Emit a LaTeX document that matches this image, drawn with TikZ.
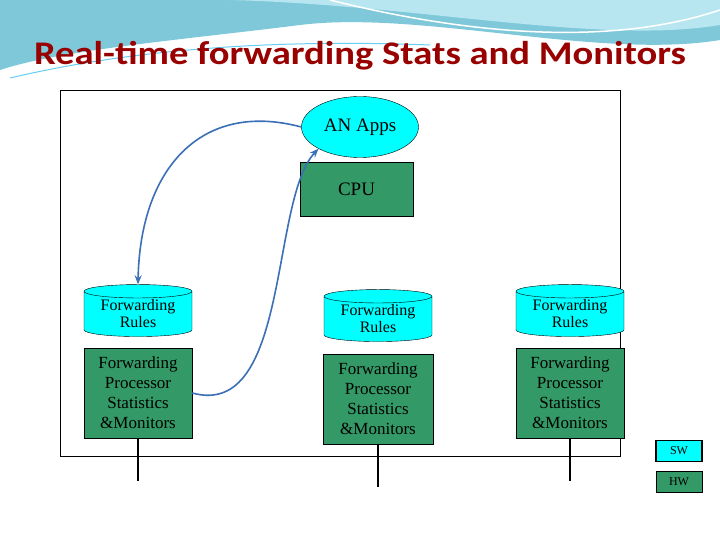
\documentclass[tikz,border=0pt]{standalone}
\usepackage{fontspec}
\setmainfont{Liberation Serif}
\newfontfamily\titlefont{Carlito}
\usetikzlibrary{shapes.geometric,arrows.meta}
\definecolor{seag}{HTML}{339966}
\definecolor{aqua}{HTML}{00FFFF}
\definecolor{ttl}{HTML}{990000}
\definecolor{arr}{HTML}{3B6FB6}
\definecolor{ban1}{HTML}{7EC8DA}
\definecolor{ban2}{HTML}{B8E6F0}
\tikzset{
 gbox/.style={draw=black,fill=seag,inner sep=0pt},
 cyl/.style={cylinder,shape border rotate=90,draw=black,fill=aqua,aspect=0.18,minimum width=108pt,minimum height=52pt,inner sep=0pt,font=\fontsize{16}{17}\selectfont,align=center},
 ptext/.style={font=\fontsize{17}{20}\selectfont,align=center},
 link/.style={draw=arr,line width=1.6pt,-{Stealth[length=9pt,width=7pt]}},
 stub/.style={draw=black,line width=1.2pt}
}
\begin{document}
\begin{tikzpicture}[x=1pt,y=-1pt]
\useasboundingbox (0,0) rectangle (720,540);
\fill[white] (0,0) rectangle (720,540);
% banner
\fill[ban1] (0,0) -- (720,0) -- (720,40) .. controls (600,60) and (420,10) .. (300,25) .. controls (180,40) and (60,50) .. (0,70) -- cycle;
\fill[ban2] (230,0) -- (720,0) -- (720,25) .. controls (600,45) and (420,5) .. (230,0) -- cycle;
\draw[white,line width=2pt] (0,75) .. controls (150,35) and (300,30) .. (420,40);
\draw[cyan!60,line width=1pt] (10,78) .. controls (150,45) and (300,40) .. (430,45);
\draw[white,line width=1.5pt] (330,0) .. controls (450,30) and (600,50) .. (720,10);
\node[font=\titlefont\bfseries\fontsize{33}{34}\selectfont,text=ttl,xscale=1.17,transform shape] (title) at (360,56) {Real-time forwarding Stats and Monitors};
% outer frame
\draw[black,line width=0.8pt] (60,90) rectangle (620,456);
% AN Apps and CPU
\node[ellipse,draw=black,fill=aqua,minimum width=117pt,minimum height=61pt,inner sep=0pt,font=\fontsize{19}{20}\selectfont] (apps) at (360,127) {AN Apps};
\node[gbox,minimum width=113pt,minimum height=54pt,font=\fontsize{19}{20}\selectfont] (cpu) at (356.5,189) {CPU};
% columns
\node[cyl] (r1) at (138,314) {Forwarding\\Rules};
\node[gbox,ptext,minimum width=108pt,minimum height=90pt] (p1) at (138,393) {Forwarding\\Processor\\Statistics\\\&Monitors};
\node[cyl] (r2) at (378,319) {Forwarding\\Rules};
\node[gbox,ptext,minimum width=110pt,minimum height=90pt] (p2) at (378,399) {Forwarding\\Processor\\Statistics\\\&Monitors};
\node[cyl] (r3) at (570,314) {Forwarding\\Rules};
\node[gbox,ptext,minimum width=108pt,minimum height=90pt] (p3) at (570,393) {Forwarding\\Processor\\Statistics\\\&Monitors};
% stubs
\coordinate (e1) at (138,481);
\coordinate (e2) at (378,487);
\coordinate (e3) at (570,481);
\draw[stub] (p1.south) -- (e1);
\draw[stub] (p2.south) -- (e2);
\draw[stub] (p3.south) -- (e3);
% SW / HW
\node[draw=black,line width=1.6pt,fill=aqua,minimum width=46pt,minimum height=21pt,inner sep=0pt,font=\fontsize{12}{12}\selectfont] (sw) at (679,451) {SW};
\node[gbox,minimum width=46pt,minimum height=21pt,font=\fontsize{12}{12}\selectfont] (hw) at (679,482) {HW};
% arrows
\draw[link] (apps.west) .. controls (200,100) and (140,170) .. (r1.north);
\draw[link] (p1.east) .. controls (290,420) and (270,200) .. (apps.south west);
\end{tikzpicture}
\end{document}
